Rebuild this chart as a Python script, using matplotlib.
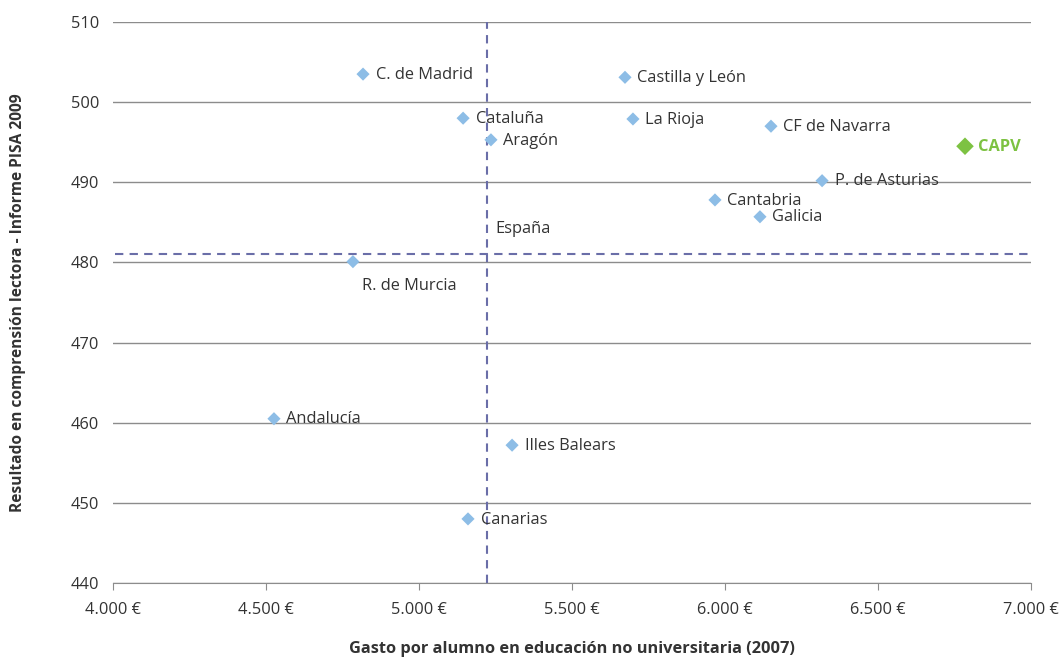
import matplotlib
matplotlib.use('Agg')
import matplotlib.pyplot as plt
from matplotlib.ticker import FuncFormatter

# datos
regiones = ["C. de Madrid", "Castilla y León", "Cataluña", "La Rioja", "CF de Navarra",
            "Aragón", "P. de Asturias", "Cantabria", "Galicia", "R. de Murcia",
            "Andalucía", "Illes Balears", "Canarias"]
gasto = [4817, 5673, 5144, 5699, 6150, 5235, 6317, 5967, 6114, 4784, 4526, 5304, 5160]
pisa = [503.5, 503.1, 498.0, 497.9, 497.0, 495.3, 490.2, 487.8, 485.7, 480.1, 460.5, 457.2, 448.0]

capv_gasto = 6784
capv_pisa = 494.5

espana_gasto = 5222
espana_pisa = 481.1

plt.rcParams['font.family'] = ['Open Sans', 'DejaVu Sans']

fig = plt.figure(figsize=(10.63, 6.57), dpi=100)
ax = fig.add_axes([0.1063, 0.1126, 0.8637, 0.8539])

ax.set_xlim(4000, 7000)
ax.set_ylim(440, 510)
ax.set_yticks(range(440, 511, 10))
ax.set_xticks(range(4000, 7001, 500))
ax.grid(axis='y', color='#8c8c8c', linewidth=1.0)
ax.set_axisbelow(True)

for s in ['top', 'right', 'left']:
    ax.spines[s].set_visible(False)
ax.spines['bottom'].set_color('#8c8c8c')
ax.tick_params(axis='y', length=0, pad=10, labelsize=11.8, colors='#333333')
ax.tick_params(axis='x', length=5, color='#8c8c8c', pad=9, labelsize=11.8, labelcolor='#333333')
ax.xaxis.set_major_formatter(FuncFormatter(lambda v, p: f"{int(v):,} €".replace(",", ".")))

# media de España
ax.axvline(espana_gasto, color='#6a6ea8', linestyle=(0, (4, 3)), linewidth=1.5)
ax.axhline(espana_pisa, color='#6a6ea8', linestyle=(0, (4, 3)), linewidth=1.5, xmin=0.002)
ax.annotate("España", (espana_gasto, espana_pisa), xytext=(6, 18), textcoords='offset points',
            fontsize=11.8, color='#333333', va='center')

ax.scatter(gasto, pisa, marker='D', s=45, color='#8dbde6', zorder=3, edgecolors='none')
for nombre, xv, yv in zip(regiones, gasto, pisa):
    if nombre == "R. de Murcia":
        ax.annotate(nombre, (xv, yv), xytext=(6.5, -17.5), textcoords='offset points',
                    fontsize=11.8, color='#333333', va='center')
    else:
        ax.annotate(nombre, (xv, yv), xytext=(9, -0.5), textcoords='offset points',
                    fontsize=11.8, color='#333333', va='center')

ax.scatter([capv_gasto], [capv_pisa], marker='D', s=80, color='#7dc242', zorder=3, edgecolors='none')
ax.annotate("CAPV", (capv_gasto, capv_pisa), xytext=(9, -0.5), textcoords='offset points',
            fontsize=11.8, color='#7dc242', fontweight='bold', va='center')

ax.set_xlabel("Gasto por alumno en educación no universitaria (2007)", fontsize=11.8,
              fontweight='bold', color='#333333', labelpad=16)
ax.set_ylabel("Resultado en comprensión lectora - Informe PISA 2009", fontsize=11.2,
              fontweight='bold', color='#333333', labelpad=32)

fig.savefig("out.png", dpi=100)
